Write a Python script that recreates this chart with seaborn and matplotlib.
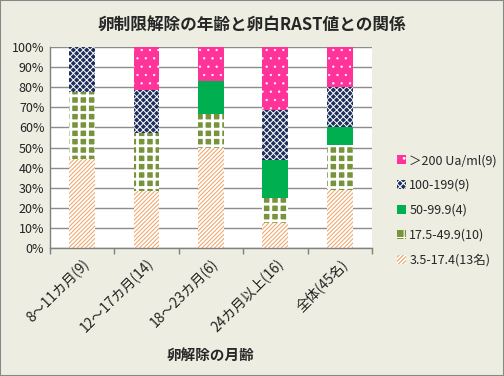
import matplotlib
matplotlib.use("Agg")
import matplotlib.pyplot as plt
import seaborn as sns
import pandas as pd
import numpy as np
from matplotlib.patches import Patch

sns.set_theme(style="white")
plt.rcParams['font.family'] = ['Noto Sans CJK JP', 'DejaVu Sans']
plt.rcParams['hatch.linewidth'] = 0.8

categories = ["8～11カ月(9)", "12～17カ月(14)", "18～23カ月(6)", "24カ月以上(16)", "全体(45名)"]
series_names = ["3.5-17.4(13名)", "17.5-49.9(10)", "50-99.9(4)", "100-199(9)", "＞200 Ua/ml(9)"]
cnt_35_174 = [4, 4, 3, 2, 13]
cnt_175_499 = [3, 4, 1, 2, 10]
cnt_50_999 = [0, 0, 1, 3, 4]
cnt_100_199 = [2, 3, 0, 4, 9]
cnt_200 = [0, 3, 1, 5, 9]
yticks = [0, 10, 20, 30, 40, 50, 60, 70, 80, 90, 100]

counts = np.array([cnt_35_174, cnt_175_499, cnt_50_999, cnt_100_199, cnt_200], dtype=float)
pct = counts / counts.sum(axis=0) * 100
cum = np.cumsum(pct, axis=0)

styles = [
    dict(face="white", edge="#F0A060", hatch="////////", lw=0.7),
    dict(face="#77933C", edge="white", hatch="++", lw=2.0),
    dict(face="#00B050", edge="#00B050", hatch=None, lw=0.8),
    dict(face="#1F2F5C", edge="white", hatch="xxxxx", lw=0.7),
    dict(face="#FF3399", edge="white", hatch="..", lw=0.4),
]

fig = plt.figure(figsize=(5.04, 3.76), dpi=100)
fig.patch.set_facecolor("#EDEEE1")
ax = fig.add_axes([0.099, 0.340, 0.639, 0.535])
ax.set_facecolor("white")
ax.set_axisbelow(True)
ax.yaxis.grid(True, color="#8C8C8C", linewidth=1.0)


def style_patch(p, st):
    p.set_facecolor(st["face"])
    p.set_edgecolor(st["edge"])
    p.set_linewidth(0)
    if st["hatch"]:
        p.set_hatch(st["hatch"])
        if hasattr(p, "set_hatch_linewidth"):
            p.set_hatch_linewidth(st["lw"])


for i in range(len(series_names) - 1, -1, -1):
    df = pd.DataFrame({"cat": categories, "val": cum[i]})
    n_before = len(ax.patches)
    sns.barplot(data=df, x="cat", y="val", ax=ax, color=styles[i]["face"],
                width=0.4, saturation=1, errorbar=None, order=categories)
    for p in ax.patches[n_before:]:
        style_patch(p, styles[i])

ax.set_ylim(0, 100)
ax.set_xlim(-0.5, 4.5)
ax.set_yticks(yticks)
ax.set_yticklabels([f"{v}%" for v in yticks], fontsize=9, color="#222222")
ax.set_xticks(range(len(categories)))
ax.set_xticklabels(categories, rotation=45, ha="right", rotation_mode="anchor", fontsize=10, color="#222222")
ax.tick_params(axis="x", which="major", length=0, pad=6)
ax.set_xticks(np.arange(-0.5, 4.6, 1.0), minor=True)
ax.tick_params(axis="x", which="minor", length=4, color="#808080", direction="out", bottom=True)
ax.tick_params(axis="y", length=0, pad=4)
ax.set_xlabel("卵解除の月齢", fontsize=10.5, fontweight="bold", labelpad=8)
ax.set_ylabel("")
for s in ["top", "right"]:
    ax.spines[s].set_visible(False)
for s in ["left", "bottom"]:
    ax.spines[s].set_color("#808080")
    ax.spines[s].set_linewidth(1.0)

handles = []
for i in range(len(series_names) - 1, -1, -1):
    st = styles[i]
    h = Patch(facecolor=st["face"], edgecolor=st["edge"], hatch=st["hatch"], linewidth=0,
              label=series_names[i])
    handles.append(h)
leg = fig.legend(handles=handles, loc="upper left", bbox_to_anchor=(0.765, 0.62),
                 frameon=False, fontsize=9, handlelength=0.7, handleheight=0.7,
                 handletextpad=0.3, labelspacing=0.95)

fig.suptitle("卵制限解除の年齢と卵白RAST値との関係", fontsize=12, fontweight="bold", y=0.955)

border = plt.Rectangle((0, 0), 1, 1, transform=fig.transFigure, fill=False,
                       edgecolor="#888888", linewidth=1.5)
fig.patches.append(border)

fig.savefig("out.png", dpi=100, facecolor=fig.get_facecolor())
